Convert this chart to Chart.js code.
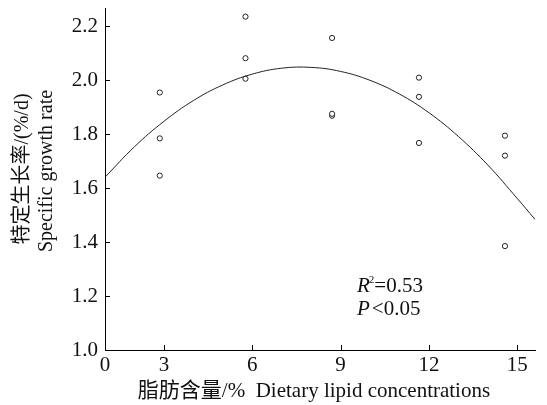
<!DOCTYPE html>
<html>
<head>
<meta charset="utf-8">
<script src="https://cdn.jsdelivr.net/npm/chart.js@4"></script>
<style>
    html, body { margin: 0; padding: 0; background: #fff; }
    #wrap { width: 547px; height: 405px; }
</style>
</head>
<body>
<div id="wrap"><canvas id="growthChart" width="547" height="405"></canvas></div>
<script>
// ============================================
// Specific growth rate vs dietary lipid
// ============================================

// observed points (x = lipid %, y = SGR %/d)
const lipidX = [2.86, 2.86, 2.86, 5.77, 5.77, 5.77, 8.71, 8.71, 8.71, 11.66, 11.66, 11.66, 14.58, 14.58, 14.58];
const growthY = [1.954, 1.784, 1.646, 2.235, 2.081, 2.005, 2.156, 1.868, 1.875, 2.009, 1.938, 1.767, 1.794, 1.720, 1.385];

// fitted curve
const curveX = [1, 2, 3, 4, 5, 6, 7, 8, 9, 10, 11, 12, 13, 14, 15, 15.6];
const curveY = [1.640, 1.753, 1.847, 1.924, 1.982, 2.022, 2.044, 2.047, 2.032, 1.999, 1.948, 1.879, 1.791, 1.685, 1.561, 1.484];

// axes
const xTicks = [1, 3, 6, 9, 12, 15];
const xTickLabels = ['0', '3', '6', '9', '12', '15'];
const yTicks = [1.0, 1.2, 1.4, 1.6, 1.8, 2.0, 2.2];

const SERIF = '"Liberation Serif", "Noto Sans CJK SC", serif';

// draw inward tick marks, axis titles and the R2/P note
const decorPlugin = {
    id: 'decor',
    afterDraw(chart) {
        const ctx = chart.ctx;
        const xs = chart.scales.x;
        const ys = chart.scales.y;
        const area = chart.chartArea;

        ctx.save();
        ctx.strokeStyle = '#000';
        ctx.lineWidth = 1;
        ctx.beginPath();
        xTicks.slice(1).forEach(v => {
            const px = Math.round(xs.getPixelForValue(v)) + 0.5;
            ctx.moveTo(px, area.bottom);
            ctx.lineTo(px, area.bottom - 5);
        });
        yTicks.slice(1).forEach(v => {
            const py = Math.round(ys.getPixelForValue(v)) + 0.5;
            ctx.moveTo(area.left, py);
            ctx.lineTo(area.left + 5, py);
        });
        ctx.stroke();

        ctx.fillStyle = '#111';
        ctx.textBaseline = 'middle';
        ctx.textAlign = 'center';
        ctx.font = '21px ' + SERIF;
        ctx.fillText('脂肪含量/%  Dietary lipid concentrations', 314, 391);

        // y title, two rotated lines
        ctx.font = '20px ' + SERIF;
        ctx.save();
        ctx.translate(23, 169);
        ctx.rotate(-Math.PI / 2);
        ctx.fillText('特定生长率/(%/d)', 0, 0);
        ctx.restore();
        ctx.save();
        ctx.translate(47, 171);
        ctx.rotate(-Math.PI / 2);
        ctx.fillText('Specific growth rate', 0, 0);
        ctx.restore();

        // note
        ctx.textAlign = 'left';
        ctx.textBaseline = 'alphabetic';
        let x = 357;
        ctx.font = 'italic 21px ' + SERIF;
        ctx.fillText('R', x, 292);
        x += ctx.measureText('R').width;
        ctx.font = '11px ' + SERIF;
        ctx.fillText('2', x - 1, 283);
        x += ctx.measureText('2').width - 1;
        ctx.font = '21px ' + SERIF;
        ctx.fillText('=0.53', x, 292);

        x = 357;
        ctx.font = 'italic 21px ' + SERIF;
        ctx.fillText('P', x, 315);
        x += ctx.measureText('P').width + 2;
        ctx.font = '21px ' + SERIF;
        ctx.fillText('<0.05', x, 315);
        ctx.restore();
    }
};

const ctx = document.getElementById('growthChart');

new Chart(ctx, {
    type: 'scatter',
    data: {
        datasets: [
            {
                label: 'fit',
                data: curveX.map((x, i) => ({ x: x, y: curveY[i] })),
                showLine: true,
                borderColor: '#222',
                borderWidth: 1,
                pointRadius: 0,
                tension: 0.4,
                fill: false
            },
            {
                label: 'observed',
                data: lipidX.map((x, i) => ({ x: x, y: growthY[i] })),
                pointRadius: 2.6,
                pointBackgroundColor: '#fff',
                pointBorderColor: '#222',
                pointBorderWidth: 1
            }
        ]
    },
    options: {
        responsive: false,
        animation: false,
        devicePixelRatio: 1,
        layout: { padding: { left: 0, right: 12, top: 8, bottom: 0 } },
        plugins: {
            legend: { display: false },
            tooltip: { enabled: false }
        },
        scales: {
            x: {
                type: 'linear',
                min: 1,
                max: 15.6,
                afterBuildTicks: scale => {
                    scale.ticks = xTicks.map(v => ({ value: v }));
                },
                afterFit: scale => {
                    scale.height = 55;
                    scale.paddingLeft = 0;
                    scale.paddingRight = 0;
                },
                grid: { display: false, drawTicks: false },
                border: { display: true, color: '#000', width: 1 },
                ticks: {
                    color: '#111',
                    padding: 3,
                    maxRotation: 0,
                    autoSkip: false,
                    font: { family: SERIF, size: 21 },
                    callback: (v) => xTickLabels[xTicks.indexOf(v)]
                }
            },
            y: {
                type: 'linear',
                min: 1.0,
                max: 2.267,
                afterBuildTicks: scale => {
                    scale.ticks = yTicks.map(v => ({ value: v }));
                },
                afterFit: scale => {
                    scale.width = 105;
                    scale.paddingTop = 0;
                    scale.paddingBottom = 0;
                },
                grid: { display: false, drawTicks: false },
                border: { display: true, color: '#000', width: 1 },
                ticks: {
                    color: '#111',
                    padding: 7,
                    autoSkip: false,
                    font: { family: SERIF, size: 21 },
                    callback: v => v.toFixed(1)
                }
            }
        }
    },
    plugins: [decorPlugin]
});
</script>
</body>
</html>
